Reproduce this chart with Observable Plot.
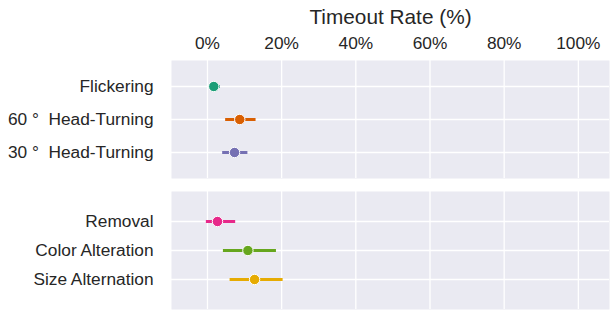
<!DOCTYPE html>
<html>
<head>
<meta charset="utf-8">
<script src="https://cdn.jsdelivr.net/npm/d3@7"></script>
<script src="https://cdn.jsdelivr.net/npm/@observablehq/plot@0.6"></script>
<style>
  html, body { margin: 0; padding: 0; background: #fff; }
  #chart { width: 610px; height: 311px; }
  #chart svg { display: block; }
</style>
</head>
<body>
<div id="chart"></div>
<script>
// Top group
const topNames = ["Flickering", "60 °\u00a0 Head-Turning", "30 °\u00a0 Head-Turning"];
const topMean = [1.7, 8.7, 7.3];
const topLo = [0.6, 4.9, 4.1];
const topHi = [3.5, 13.1, 10.9];
// Bottom group
const botNames = ["Removal", "Color Alteration", "Size Alternation"];
const botMean = [2.7, 10.9, 12.7];
const botLo = [-0.3, 4.3, 6.1];
const botHi = [7.6, 18.6, 20.4];

const colors = ["#1b9e77", "#d95f02", "#7570b3", "#e7298a", "#66a61e", "#e6ab02"];
const xTicks = [0, 20, 40, 60, 80, 100];
const xDomain = [-9.7, 108.4];
const title = "Timeout Rate (%)";

const allNames = topNames.concat(botNames);
const font = "'Liberation Sans', Arial, Helvetica, sans-serif";

const topData = topNames.map((name, i) => ({name, mean: topMean[i], lo: topLo[i], hi: topHi[i]}));
const botData = botNames.map((name, i) => ({name, mean: botMean[i], lo: botLo[i], hi: botHi[i]}));

function panel(data, names, opts) {
  return Plot.plot({
    width: 610,
    height: opts.height,
    marginTop: opts.marginTop,
    marginBottom: opts.marginBottom,
    marginLeft: 171,
    marginRight: 1,
    style: {fontFamily: font, background: "#fff", overflow: "visible"},
    x: {domain: xDomain, axis: null},
    y: {type: "point", domain: names, padding: opts.padding, axis: null},
    color: {domain: allNames, range: colors},
    marks: [
      Plot.frame({fill: "#eaeaf2", stroke: null}),
      Plot.gridX({ticks: xTicks, stroke: "#fff", strokeOpacity: 1, strokeWidth: 1.3}),
      Plot.gridY({stroke: "#fff", strokeOpacity: 1, strokeWidth: 1.3}),
      Plot.axisY({tickSize: 0, tickPadding: 18, fontSize: 17.3, fill: "#262626", label: null}),
      ...(opts.top ? [
        Plot.axisX({anchor: "top", ticks: xTicks, tickFormat: d => d + "%", tickSize: 0, tickPadding: 12, fontSize: 17.3, fill: "#262626", label: null}),
        Plot.text([title], {frameAnchor: "top", dy: -51, fontSize: 20.8, fill: "#262626"})
      ] : []),
      Plot.ruleY(data, {y: "name", x1: "lo", x2: "hi", stroke: "name", strokeWidth: 3}),
      Plot.dot(data, {x: "mean", y: "name", fill: "name", r: 5.2, stroke: "#fff", strokeWidth: 1})
    ]
  });
}

const chart = document.getElementById("chart");
chart.append(panel(topData, topNames, {height: 178, marginTop: 60, marginBottom: 0, padding: 0.76, top: true}));
chart.append(panel(botData, botNames, {height: 133, marginTop: 13, marginBottom: 2, padding: 0.967, top: false}));
</script>
</body>
</html>
